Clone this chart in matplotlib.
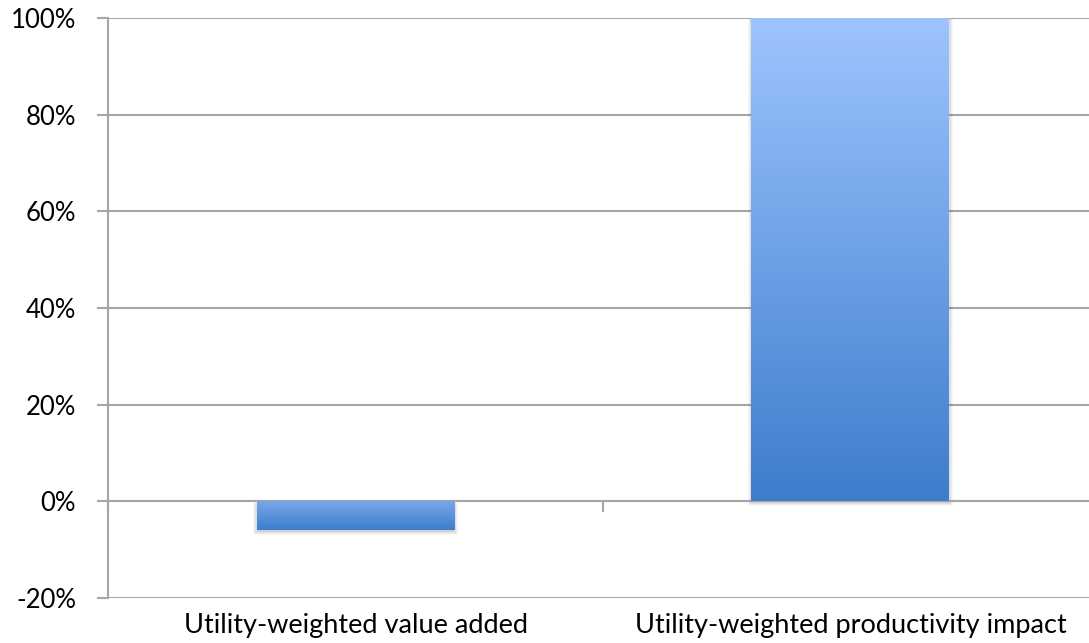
import matplotlib
matplotlib.use("Agg")
import matplotlib.pyplot as plt
import numpy as np
from matplotlib.colors import LinearSegmentedColormap
from matplotlib.patches import Rectangle
from matplotlib.ticker import FuncFormatter

categories = ["Utility-weighted value added", "Utility-weighted productivity impact"]
values = [-6, 100]
yticks = [-20, 0, 20, 40, 60, 80, 100]

plt.rcParams['font.family'] = ['Lato', 'DejaVu Sans']

fig = plt.figure(figsize=(10.89, 6.43), dpi=100)
ax = fig.add_axes([0.0992, 0.070, 0.909, 0.902])

ax.set_xlim(-0.5, 1.5)
ax.set_ylim(-20, 100)

grid_col = "#a6a6a6"
for t in yticks:
    ax.axhline(t, color=grid_col, lw=1.5, zorder=1)

top_col = "#9ec4ff"
bot_col = "#3d7dcc"
cmap = LinearSegmentedColormap.from_list("g", [bot_col, top_col])
width = 0.4
for i, v in enumerate(values):
    x0 = i - width / 2
    y0, y1 = min(0, v), max(0, v)
    # soft shadow, mostly below the bar
    for k, a in enumerate([0.03, 0.04, 0.05, 0.07]):
        off = 0.9 - k * 0.2
        grow = 0.0025 * (3 - k)
        sh = Rectangle((x0 - grow, y0 - off), width + 2 * grow, (y1 - y0) + off - 0.3,
                       facecolor="black", alpha=a, edgecolor="none", zorder=2)
        ax.add_patch(sh)
    rect = Rectangle((x0, y0), width, y1 - y0, facecolor="none", edgecolor="none", zorder=3)
    ax.add_patch(rect)
    if v >= 0:
        grad = np.linspace(0, 1, 256).reshape(-1, 1)
    else:
        grad = np.linspace(0.0, 0.6, 256).reshape(-1, 1)
    im = ax.imshow(grad, cmap=cmap, vmin=0, vmax=1, origin="lower", aspect="auto",
                   extent=(x0, x0 + width, y0, y1), zorder=3, interpolation="bilinear")
    im.set_clip_path(rect)

ax.set_xlim(-0.5, 1.5)
ax.set_ylim(-20, 100)

for s in ["top", "right"]:
    ax.spines[s].set_visible(False)
ax.spines["bottom"].set_position(("data", 0))
ax.spines["bottom"].set_color(grid_col)
ax.spines["bottom"].set_linewidth(1.5)
ax.spines["left"].set_color(grid_col)
ax.spines["left"].set_linewidth(1.5)

ax.set_yticks(yticks)
ax.yaxis.set_major_formatter(FuncFormatter(lambda v, p: f"{int(v)}%"))
ax.tick_params(axis="y", length=8, width=1.5, color=grid_col, labelsize=18.5, pad=15, labelcolor="black")

ax.set_xticks([-0.5, 0.5, 1.5])
ax.set_xticklabels([])
ax.tick_params(axis="x", length=8, width=1.5, color=grid_col, direction="out")

for i, c in enumerate(categories):
    ax.text(i, -0.026, c, transform=ax.get_xaxis_transform(), ha="center", va="top", fontsize=19.5)

fig.savefig("out.png", dpi=100)
